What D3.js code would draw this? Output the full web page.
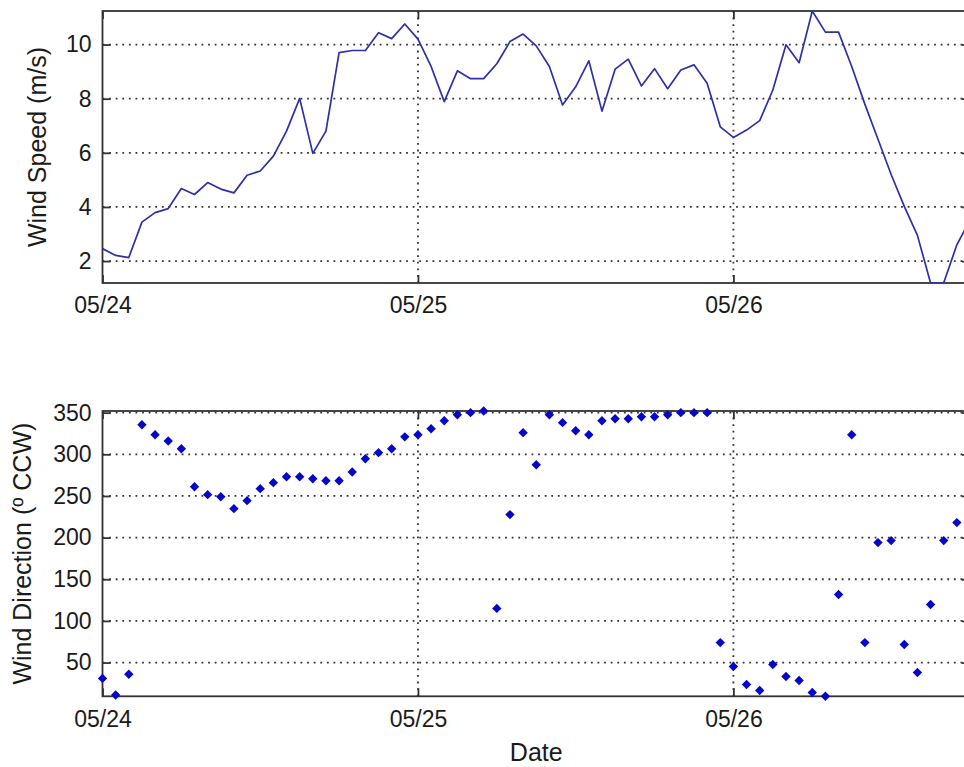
<!DOCTYPE html>
<html>
<head>
<meta charset="utf-8">
<script src="https://cdn.jsdelivr.net/npm/d3@7"></script>
<style>
  body { margin: 0; background: #fff; }
  svg text { font-family: "Liberation Sans", Arial, Helvetica, sans-serif; fill: #1a1a1a; }
</style>
</head>
<body>
<svg id="chart" width="964" height="767"></svg>
<script>
// Hourly record starting 05/24 00:00 (x values are hours since that moment)
const dayTicks = [0, 24, 48];
const dayLabels = ["05/24", "05/25", "05/26"];
const speedTicks = [2, 4, 6, 8, 10];
const directionTicks = [50, 100, 150, 200, 250, 300, 350];

// Wind speed, m/s, one value per hour
const speed = [
  2.46, 2.21, 2.13, 3.44, 3.79, 3.94, 4.68, 4.46, 4.90, 4.66, 4.52, 5.17,
  5.33, 5.88, 6.80, 8.01, 5.98, 6.80, 9.70, 9.78, 9.78, 10.44, 10.22, 10.76,
  10.20, 9.19, 7.89, 9.03, 8.74, 8.74, 9.29, 10.11, 10.39, 9.95, 9.19, 7.77,
  8.44, 9.40, 7.54, 9.09, 9.46, 8.47, 9.11, 8.37, 9.06, 9.25, 8.57, 6.96,
  6.57, 6.84, 7.19, 8.32, 9.99, 9.33, 11.24, 10.46, 10.46, 9.19, 7.80, 6.50,
  5.20, 4.02, 2.95, 1.19, 1.20, 2.60, 3.52
];

// Wind direction, degrees counter-clockwise, one value per hour
const direction = [
  31, 11, 36, 335.5, 323.5, 316, 306.7, 261, 251.6, 249, 234.8, 244.4,
  258.8, 266, 273, 273, 270.7, 268.3, 268.3, 278.8, 294.7, 302, 306.7, 321,
  323.5, 330.7, 340.3, 347.5, 350, 352, 115, 227.6, 326, 287.5, 347.5, 338,
  328.3, 323.5, 340.3, 342.7, 342.7, 345.1, 345.1, 347.5, 350, 350, 350, 74,
  45.3, 23.7, 16.5, 47.7, 33.3, 28.5, 14.1, 9.5, 131.7, 323.5, 74, 194,
  196.4, 71.7, 38.1, 119.7, 196.4, 218
];

const svg = d3.select("#chart");
const left = 102.5, right = 970;
const lastHour = speed.length - 1;

const x = d3.scaleLinear().domain([0, lastHour]).range([left, right]);

const axisColor = "#333";
const tickFont = 23;
const labelFont = 25;

function drawPanel(top, bottom, yScale, yTicks, id) {
  const g = svg.append("g");

  g.append("clipPath").attr("id", id)
    .append("rect")
    .attr("x", left).attr("y", top)
    .attr("width", right - left).attr("height", bottom - top);

  // dotted grid
  const grid = g.append("g")
    .attr("stroke", "#333")
    .attr("stroke-width", 1.8)
    .attr("stroke-dasharray", "1.8,4.8");
  grid.selectAll(".gy").data(yTicks).join("line")
    .attr("x1", left).attr("x2", right)
    .attr("y1", d => yScale(d)).attr("y2", d => yScale(d));
  grid.selectAll(".gx").data(dayTicks.slice(1)).join("line")
    .attr("y1", top).attr("y2", bottom)
    .attr("x1", d => x(d)).attr("x2", d => x(d));

  const styleAxis = sel => {
    sel.select(".domain").remove();
    sel.selectAll(".tick line").attr("stroke", axisColor).attr("stroke-width", 1.8);
    sel.selectAll(".tick text").attr("font-size", tickFont).attr("fill", "#1a1a1a");
  };

  g.append("g").attr("transform", `translate(${left},0)`)
    .call(d3.axisLeft(yScale).tickValues(yTicks).tickSizeInner(-8).tickSizeOuter(0).tickPadding(11))
    .call(styleAxis);
  g.append("g").attr("transform", `translate(${right},0)`)
    .call(d3.axisRight(yScale).tickValues(yTicks).tickSizeInner(-8).tickSizeOuter(0).tickFormat(""))
    .call(styleAxis);
  g.append("g").attr("transform", `translate(0,${bottom})`)
    .call(d3.axisBottom(x).tickValues(dayTicks).tickFormat((d, i) => dayLabels[i])
      .tickSizeInner(-8).tickSizeOuter(0).tickPadding(14))
    .call(styleAxis);
  g.append("g").attr("transform", `translate(0,${top})`)
    .call(d3.axisTop(x).tickValues(dayTicks).tickSizeInner(-8).tickSizeOuter(0).tickFormat(""))
    .call(styleAxis);

  // frame
  g.append("rect")
    .attr("x", left).attr("y", top)
    .attr("width", right - left).attr("height", bottom - top)
    .attr("fill", "none").attr("stroke", axisColor).attr("stroke-width", 1.8);

  return g;
}

// ---- Wind speed panel ----
const sTop = 11, sBottom = 283;
const ySpeed = d3.scaleLinear().domain(d3.extent(speed)).range([sBottom, sTop]);
const gs = drawPanel(sTop, sBottom, ySpeed, speedTicks, "clipSpeed");

gs.append("path")
  .datum(speed)
  .attr("clip-path", "url(#clipSpeed)")
  .attr("fill", "none")
  .attr("stroke", "#2f2fa8")
  .attr("stroke-width", 1.7)
  .attr("stroke-linejoin", "round")
  .attr("d", d3.line().x((d, i) => x(i)).y(d => ySpeed(d)));

svg.append("text")
  .attr("transform", `translate(46,${(sTop + sBottom) / 2}) rotate(-90)`)
  .attr("text-anchor", "middle")
  .attr("font-size", labelFont)
  .text("Wind Speed (m/s)");

// ---- Wind direction panel ----
const dTop = 411, dBottom = 696.3;
const yDir = d3.scaleLinear().domain(d3.extent(direction)).range([dBottom, dTop]);
const gd = drawPanel(dTop, dBottom, yDir, directionTicks, "clipDir");

// square diamond marker
const squareDiamond = {
  draw(ctx, size) {
    const r = Math.sqrt(size / 2);
    ctx.moveTo(0, -r);
    ctx.lineTo(r, 0);
    ctx.lineTo(0, r);
    ctx.lineTo(-r, 0);
    ctx.closePath();
  }
};

gd.append("g")
  .selectAll("path")
  .data(direction)
  .join("path")
  .attr("transform", (d, i) => `translate(${x(i)},${yDir(d)})`)
  .attr("d", d3.symbol().type(squareDiamond).size(44))
  .attr("fill", "#0606c8");

svg.append("text")
  .attr("transform", `translate(31,${(dTop + dBottom) / 2}) rotate(-90)`)
  .attr("text-anchor", "middle")
  .attr("font-size", labelFont)
  .text("Wind Direction (º CCW)");

svg.append("text")
  .attr("x", (left + right) / 2)
  .attr("y", 761)
  .attr("text-anchor", "middle")
  .attr("font-size", labelFont)
  .text("Date");
</script>
</body>
</html>
